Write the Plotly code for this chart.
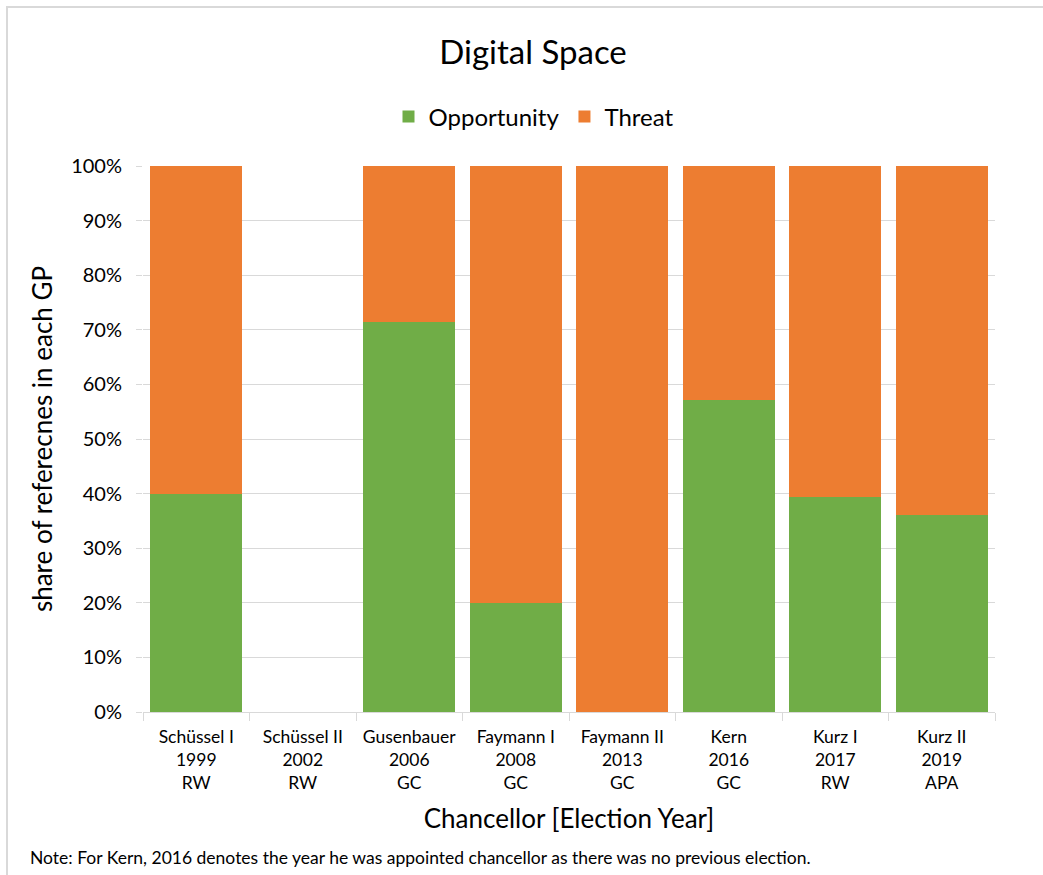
import plotly.graph_objects as go

# Chancellorship periods (name, election year, government type)
chancellors = ["Schüssel I", "Schüssel II", "Gusenbauer", "Faymann I",
               "Faymann II", "Kern", "Kurz I", "Kurz II"]
years = ["1999", "2002", "2006", "2008", "2013", "2016", "2017", "2019"]
gov_types = ["RW", "RW", "GC", "GC", "GC", "GC", "RW", "APA"]

# Share of references (%) per government programme
opportunity = [40.0, None, 71.4, 20.0, 0.0, 57.1, 39.3, 36.0]
threat = [60.0, None, 28.6, 80.0, 100.0, 42.9, 60.7, 64.0]

labels = [f"{c}<br>{y}<br>{g}" for c, y, g in zip(chancellors, years, gov_types)]

W, H = 1043, 875
ML, MR, MT, MB = 143, 48, 166, 163
PW, PH = W - ML - MR, H - MT - MB

FONT = "Lato"
GREEN = "#70AD47"
ORANGE = "#ED7D31"
GRID = "#D9D9D9"

fig = go.Figure()
fig.add_trace(go.Bar(x=labels, y=opportunity, name="Opportunity",
                     marker=dict(color=GREEN, line=dict(width=0))))
fig.add_trace(go.Bar(x=labels, y=threat, name="Threat",
                     marker=dict(color=ORANGE, line=dict(width=0))))


def px_x(p):
    return (p - ML) / PW


def px_y(p):
    return (H - MB - p) / PH


fig.update_layout(
    width=W, height=H,
    margin=dict(l=ML, r=MR, t=MT, b=MB),
    barmode="stack",
    bargap=0.135,
    paper_bgcolor="white",
    plot_bgcolor="white",
    font=dict(family=FONT, color="#000000"),
    title=dict(text="Digital Space", x=533 / W, xanchor="center",
               y=1 - 52 / H, yanchor="middle",
               font=dict(size=33, family=FONT, color="#000000")),
    legend=dict(orientation="h", x=px_x(534), xanchor="center",
                y=px_y(117), yanchor="middle",
                font=dict(size=24, family=FONT),
                itemsizing="constant", itemwidth=30,
                traceorder="normal"),
    xaxis=dict(
        type="category",
        tickson="boundaries",
        ticks="outside", ticklen=8, tickcolor=GRID, tickwidth=1,
        showline=True, linecolor=GRID, linewidth=1,
        showgrid=False,
        ticklabelstandoff=9,
        tickfont=dict(size=17.5, family=FONT),
        title=dict(text="Chancellor [Election Year]",
                   font=dict(size=26, family=FONT), standoff=18),
    ),
    yaxis=dict(
        range=[0, 100], dtick=10, ticksuffix="%",
        showgrid=True, gridcolor=GRID, gridwidth=1,
        ticks="outside", ticklen=6, tickcolor=GRID,
        ticklabelstandoff=10,
        zeroline=False, showline=False,
        tickfont=dict(size=20, family=FONT),
        title=dict(text="share of referecnes in each GP",
                   font=dict(size=26, family=FONT), standoff=11),
    ),
    annotations=[
        dict(text="Note: For Kern, 2016 denotes the year he was appointed chancellor "
                  "as there was no previous election.",
             xref="paper", yref="paper", x=px_x(28), y=px_y(857),
             xanchor="left", yanchor="middle", showarrow=False,
             font=dict(size=17.5, family=FONT, color="#000000")),
    ],
    shapes=[
        dict(type="rect", xref="paper", yref="paper",
             x0=px_x(7), x1=px_x(W + 10), y0=px_y(H + 10), y1=px_y(7),
             line=dict(color=GRID, width=2), fillcolor="rgba(0,0,0,0)",
             layer="below"),
    ],
)

fig.write_html("out.html")
